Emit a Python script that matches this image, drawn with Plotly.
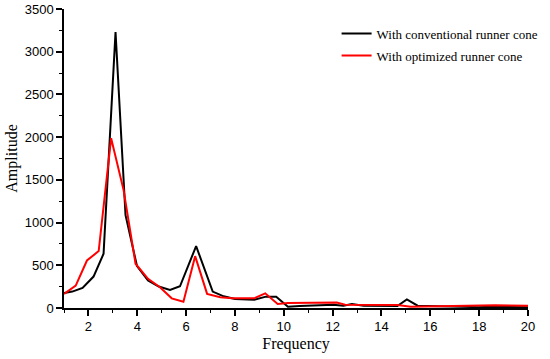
import plotly.graph_objects as go

# Data
conv_freq = [1, 1.34, 1.76, 2.21, 2.62, 3.11, 3.52, 3.99, 4.44, 4.88, 5.34, 5.75, 6.41,
             7.09, 7.54, 8.0, 8.79, 9.27, 9.69, 10.17, 10.65, 12.03, 12.44, 12.79, 13.27,
             14.65, 15.04, 15.48, 17.97, 18.52, 20]
conv_amp = [176, 192, 235, 368, 635, 3230, 1086, 490, 321, 251, 212, 254, 725,
            192, 137, 106, 98, 133, 133, 15, 23, 39, 27, 47, 27,
            23, 101, 27, 10, 15, 10]

opt_freq = [1, 1.48, 1.94, 2.42, 2.93, 3.44, 3.93, 4.44, 4.93, 5.41, 5.89, 6.37, 6.86,
            7.4, 7.89, 8.79, 9.24, 9.75, 10.17, 11.9, 12.17, 12.51, 14.65, 15.2, 17.4,
            18.65, 20]
opt_amp = [165, 262, 556, 666, 1988, 1380, 518, 341, 243, 113, 74, 607, 165,
           125, 113, 113, 172, 47, 59, 55, 63, 39, 35, 15, 23,
           31, 27]

x_ticks = [2, 4, 6, 8, 10, 12, 14, 16, 18, 20]
y_ticks = [0, 500, 1000, 1500, 2000, 2500, 3000, 3500]

fig = go.Figure()
fig.add_trace(go.Scatter(x=conv_freq, y=conv_amp, mode="lines",
                         name="With conventional runner cone", legendgroup="a",
                         line=dict(color="#000000", width=2)))
fig.add_trace(go.Scatter(x=opt_freq, y=opt_amp, mode="lines",
                         name="With optimized runner cone", legendgroup="b",
                         line=dict(color="#ff0000", width=2)))

serif = "Liberation Serif, Times New Roman, serif"
sans = "Liberation Sans, Arial, sans-serif"

fig.update_layout(
    width=550, height=359, autosize=False,
    margin=dict(l=64, r=22, t=9, b=51, autoexpand=False),
    plot_bgcolor="white", paper_bgcolor="white",
    showlegend=True,
    legend=dict(x=0.612, y=0.948, xref="container", yref="container",
                xanchor="left", yanchor="top",
                font=dict(family=serif, size=13, color="black"),
                bgcolor="rgba(0,0,0,0)", tracegroupgap=2),
    xaxis=dict(range=[1, 20], tickvals=x_ticks, ticktext=[str(v) for v in x_ticks],
               automargin=False,
               showgrid=False, zeroline=False, showline=True, linecolor="black", linewidth=1.5,
               ticks="outside", ticklen=6, tickwidth=1.5, tickcolor="black",
               minor=dict(dtick=1, tick0=1, ticks="outside", ticklen=3, tickwidth=1.2, tickcolor="black"),
               tickfont=dict(family=sans, size=13, color="black"),
               title=dict(text="Frequency", font=dict(family=serif, size=16, color="black"), standoff=4)),
    yaxis=dict(range=[0, 3500], tickvals=y_ticks, ticktext=[str(v) for v in y_ticks],
               automargin=False,
               showgrid=False, zeroline=False, showline=True, linecolor="black", linewidth=1.5,
               ticks="outside", ticklen=6, tickwidth=1.5, tickcolor="black",
               minor=dict(dtick=250, tick0=0, ticks="outside", ticklen=3, tickwidth=1.2, tickcolor="black"),
               tickfont=dict(family=sans, size=13, color="black"),
               title=dict(text="Amplitude", font=dict(family=serif, size=16, color="black"), standoff=3)),
)

fig.write_html("out.html", config={"displayModeBar": False},
               post_script="document.body.style.margin='0px';")
